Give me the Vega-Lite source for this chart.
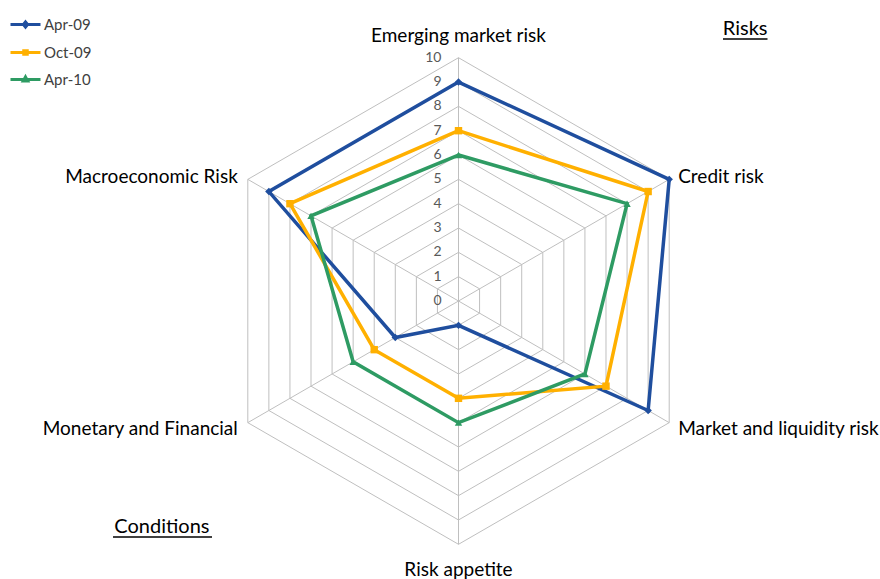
{
  "$schema": "https://vega.github.io/schema/vega-lite/v6.json",
  "width": 880,
  "height": 579,
  "autosize": "none",
  "padding": 0,
  "background": "white",
  "config": {"view": {"stroke": null}, "font": "Lato"},
  "datasets": {
    "radar": [
      {"series": "Apr-09", "axis": "Emerging market risk", "idx": 0, "value": 9},
      {"series": "Apr-09", "axis": "Credit risk", "idx": 1, "value": 10},
      {"series": "Apr-09", "axis": "Market and liquidity risk", "idx": 2, "value": 9},
      {"series": "Apr-09", "axis": "Risk appetite", "idx": 3, "value": 1},
      {"series": "Apr-09", "axis": "Monetary and Financial", "idx": 4, "value": 3},
      {"series": "Apr-09", "axis": "Macroeconomic Risk", "idx": 5, "value": 9},
      {"series": "Oct-09", "axis": "Emerging market risk", "idx": 0, "value": 7},
      {"series": "Oct-09", "axis": "Credit risk", "idx": 1, "value": 9},
      {"series": "Oct-09", "axis": "Market and liquidity risk", "idx": 2, "value": 7},
      {"series": "Oct-09", "axis": "Risk appetite", "idx": 3, "value": 4},
      {"series": "Oct-09", "axis": "Monetary and Financial", "idx": 4, "value": 4},
      {"series": "Oct-09", "axis": "Macroeconomic Risk", "idx": 5, "value": 8},
      {"series": "Apr-10", "axis": "Emerging market risk", "idx": 0, "value": 6},
      {"series": "Apr-10", "axis": "Credit risk", "idx": 1, "value": 8},
      {"series": "Apr-10", "axis": "Market and liquidity risk", "idx": 2, "value": 6},
      {"series": "Apr-10", "axis": "Risk appetite", "idx": 3, "value": 5},
      {"series": "Apr-10", "axis": "Monetary and Financial", "idx": 4, "value": 5},
      {"series": "Apr-10", "axis": "Macroeconomic Risk", "idx": 5, "value": 7}
    ],
    "axes": [
      {"idx": 0, "axis": "Emerging market risk"},
      {"idx": 1, "axis": "Credit risk"},
      {"idx": 2, "axis": "Market and liquidity risk"},
      {"idx": 3, "axis": "Risk appetite"},
      {"idx": 4, "axis": "Monetary and Financial"},
      {"idx": 5, "axis": "Macroeconomic Risk"}
    ],
    "grid": [
      {"level": 1, "k": [0, 1, 2, 3, 4, 5]},
      {"level": 2, "k": [0, 1, 2, 3, 4, 5]},
      {"level": 3, "k": [0, 1, 2, 3, 4, 5]},
      {"level": 4, "k": [0, 1, 2, 3, 4, 5]},
      {"level": 5, "k": [0, 1, 2, 3, 4, 5]},
      {"level": 6, "k": [0, 1, 2, 3, 4, 5]},
      {"level": 7, "k": [0, 1, 2, 3, 4, 5]},
      {"level": 8, "k": [0, 1, 2, 3, 4, 5]},
      {"level": 9, "k": [0, 1, 2, 3, 4, 5]},
      {"level": 10, "k": [0, 1, 2, 3, 4, 5]}
    ],
    "ticks": [
      {"level": 0}, {"level": 1}, {"level": 2}, {"level": 3}, {"level": 4}, {"level": 5},
      {"level": 6}, {"level": 7}, {"level": 8}, {"level": 9}, {"level": 10}
    ],
    "notes": [
      {"note": "Risks", "px": 11.78, "py": 10.93, "ux": 10.87, "ux2": 12.7, "uy": 10.77},
      {"note": "Conditions", "px": -12.19, "py": -9.54, "ux": -14.2, "ux2": -10.13, "uy": -9.7}
    ]
  },
  "encoding": {
    "x": {"field": "px", "type": "quantitative", "scale": {"domain": [-18.845, 17.324], "nice": false, "zero": false}, "axis": null},
    "y": {"field": "py", "type": "quantitative", "scale": {"domain": [-11.426, 12.372], "nice": false, "zero": false}, "axis": null}
  },
  "layer": [
    {
      "data": {"name": "radar"},
      "transform": [
        {"calculate": "datum.value*sin(datum.idx*PI/3)", "as": "px"},
        {"calculate": "datum.value*cos(datum.idx*PI/3)", "as": "py"}
      ],
      "mark": {"type": "point", "filled": false, "opacity": 0, "size": 1},
      "encoding": {
        "color": {
          "field": "series",
          "type": "nominal",
          "scale": {"domain": ["Apr-09", "Oct-09", "Apr-10"], "range": ["#1F4E9E", "#FFB000", "#2E9B63"]},
          "legend": {
            "title": null,
            "orient": "none",
            "legendX": 16,
            "legendY": 15,
            "padding": 0,
            "offset": 0,
            "symbolSize": 256,
            "symbolStrokeWidth": 3,
            "symbolOpacity": 1,
            "labelFontSize": 15,
            "labelFont": "Lato",
            "labelColor": "#404040",
            "labelOffset": 9,
            "rowPadding": 9
          }
        },
        "shape": {
          "field": "series",
          "type": "nominal",
          "scale": {
            "domain": ["Apr-09", "Oct-09", "Apr-10"],
            "range": [
              "M-1.875,0H1.875M0,-0.32L0.26,0L0,0.32L-0.26,0Z",
              "M-1.875,0H1.875M-0.22,-0.22H0.22V0.22H-0.22Z",
              "M-1.875,0H1.875M0,-0.32L0.28,0.18H-0.28Z"
            ]
          },
          "legend": {
            "title": null,
            "orient": "none",
            "legendX": 16,
            "legendY": 15,
            "padding": 0,
            "offset": 0,
            "symbolSize": 256,
            "symbolStrokeWidth": 3,
            "symbolOpacity": 1,
            "labelFontSize": 15,
            "labelFont": "Lato",
            "labelColor": "#404040",
            "labelOffset": 9,
            "rowPadding": 9
          }
        }
      }
    },
    {
      "data": {"name": "grid"},
      "transform": [
        {"flatten": ["k"]},
        {"calculate": "datum.level*sin(datum.k*PI/3)", "as": "px"},
        {"calculate": "datum.level*cos(datum.k*PI/3)", "as": "py"}
      ],
      "mark": {"type": "line", "interpolate": "linear-closed", "color": "#BFBFBF", "strokeWidth": 1},
      "encoding": {"detail": {"field": "level"}, "order": {"field": "k"}}
    },
    {
      "data": {"name": "axes"},
      "transform": [
        {"calculate": "0", "as": "px"},
        {"calculate": "0", "as": "py"},
        {"calculate": "10*sin(datum.idx*PI/3)", "as": "px2"},
        {"calculate": "10*cos(datum.idx*PI/3)", "as": "py2"}
      ],
      "mark": {"type": "rule", "color": "#BFBFBF", "strokeWidth": 1},
      "encoding": {"x2": {"field": "px2"}, "y2": {"field": "py2"}}
    },
    {
      "data": {"name": "ticks"},
      "transform": [
        {"calculate": "0", "as": "px"},
        {"calculate": "datum.level", "as": "py"}
      ],
      "mark": {"type": "text", "align": "right", "baseline": "middle", "dx": -17, "fontSize": 14, "color": "#595959"},
      "encoding": {"text": {"field": "level", "type": "quantitative"}}
    },
    {
      "data": {"name": "axes"},
      "transform": [
        {"filter": "datum.idx == 0"},
        {"calculate": "10*sin(datum.idx*PI/3)", "as": "px"},
        {"calculate": "10*cos(datum.idx*PI/3)", "as": "py"}
      ],
      "mark": {"type": "text", "align": "center", "baseline": "alphabetic", "dy": -16, "fontSize": 19, "color": "#000000"},
      "encoding": {"text": {"field": "axis"}}
    },
    {
      "data": {"name": "axes"},
      "transform": [
        {"filter": "datum.idx == 3"},
        {"calculate": "10*sin(datum.idx*PI/3)", "as": "px"},
        {"calculate": "10*cos(datum.idx*PI/3)", "as": "py"}
      ],
      "mark": {"type": "text", "align": "center", "baseline": "alphabetic", "dy": 32, "fontSize": 19, "color": "#000000"},
      "encoding": {"text": {"field": "axis"}}
    },
    {
      "data": {"name": "axes"},
      "transform": [
        {"filter": "datum.idx == 1"},
        {"calculate": "10*sin(datum.idx*PI/3)", "as": "px"},
        {"calculate": "10*cos(datum.idx*PI/3)", "as": "py"}
      ],
      "mark": {"type": "text", "align": "left", "baseline": "middle", "dx": 9, "dy": -2, "fontSize": 19, "color": "#000000"},
      "encoding": {"text": {"field": "axis"}}
    },
    {
      "data": {"name": "axes"},
      "transform": [
        {"filter": "datum.idx == 2"},
        {"calculate": "10*sin(datum.idx*PI/3)", "as": "px"},
        {"calculate": "10*cos(datum.idx*PI/3)", "as": "py"}
      ],
      "mark": {"type": "text", "align": "left", "baseline": "middle", "dx": 9, "dy": 6, "fontSize": 19, "color": "#000000"},
      "encoding": {"text": {"field": "axis"}}
    },
    {
      "data": {"name": "axes"},
      "transform": [
        {"filter": "datum.idx == 5"},
        {"calculate": "10*sin(datum.idx*PI/3)", "as": "px"},
        {"calculate": "10*cos(datum.idx*PI/3)", "as": "py"}
      ],
      "mark": {"type": "text", "align": "right", "baseline": "middle", "dx": -10, "dy": -2, "fontSize": 19, "color": "#000000"},
      "encoding": {"text": {"field": "axis"}}
    },
    {
      "data": {"name": "axes"},
      "transform": [
        {"filter": "datum.idx == 4"},
        {"calculate": "10*sin(datum.idx*PI/3)", "as": "px"},
        {"calculate": "10*cos(datum.idx*PI/3)", "as": "py"}
      ],
      "mark": {"type": "text", "align": "right", "baseline": "middle", "dx": -10, "dy": 6, "fontSize": 19, "color": "#000000"},
      "encoding": {"text": {"field": "axis"}}
    },
    {
      "data": {"name": "radar"},
      "transform": [
        {"calculate": "datum.value*sin(datum.idx*PI/3)", "as": "px"},
        {"calculate": "datum.value*cos(datum.idx*PI/3)", "as": "py"}
      ],
      "mark": {"type": "line", "interpolate": "linear-closed", "strokeWidth": 3.5},
      "encoding": {
        "color": {"field": "series", "type": "nominal", "legend": null},
        "detail": {"field": "series"},
        "order": {"field": "idx"}
      }
    },
    {
      "data": {"name": "radar"},
      "transform": [
        {"filter": "datum.series == 'Apr-09'"},
        {"calculate": "datum.value*sin(datum.idx*PI/3)", "as": "px"},
        {"calculate": "datum.value*cos(datum.idx*PI/3)", "as": "py"}
      ],
      "mark": {"type": "point", "shape": "diamond", "filled": true, "opacity": 1, "size": 55},
      "encoding": {"color": {"field": "series", "type": "nominal", "legend": null}}
    },
    {
      "data": {"name": "radar"},
      "transform": [
        {"filter": "datum.series == 'Oct-09'"},
        {"calculate": "datum.value*sin(datum.idx*PI/3)", "as": "px"},
        {"calculate": "datum.value*cos(datum.idx*PI/3)", "as": "py"}
      ],
      "mark": {"type": "point", "shape": "square", "filled": true, "opacity": 1, "size": 55},
      "encoding": {"color": {"field": "series", "type": "nominal", "legend": null}}
    },
    {
      "data": {"name": "radar"},
      "transform": [
        {"filter": "datum.series == 'Apr-10'"},
        {"calculate": "datum.value*sin(datum.idx*PI/3)", "as": "px"},
        {"calculate": "datum.value*cos(datum.idx*PI/3)", "as": "py"}
      ],
      "mark": {"type": "point", "shape": "triangle-up", "filled": true, "opacity": 1, "size": 55},
      "encoding": {"color": {"field": "series", "type": "nominal", "legend": null}}
    },
    {
      "data": {"name": "notes"},
      "mark": {"type": "text", "align": "center", "baseline": "alphabetic", "fontSize": 20, "color": "#000000"},
      "encoding": {"text": {"field": "note"}}
    },
    {
      "data": {"name": "notes"},
      "mark": {"type": "rule", "color": "#000000", "strokeWidth": 1.5},
      "encoding": {
        "x": {"field": "ux", "type": "quantitative"},
        "x2": {"field": "ux2"},
        "y": {"field": "uy", "type": "quantitative"}
      }
    }
  ]
}
